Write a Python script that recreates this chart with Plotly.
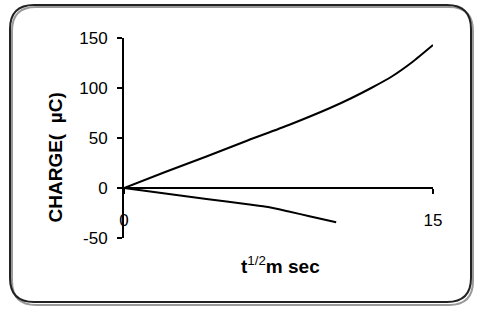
import plotly.graph_objects as go

# Data
x_upper = [0, 2, 4, 6, 8, 10, 11, 12, 13, 14, 15]
y_upper = [0, 16, 31.5, 47.5, 63, 80, 89.5, 100, 111.5, 126, 143]

x_lower = [0, 2, 4, 6, 7, 8, 9, 10.3]
y_lower = [0, -5.4, -10.9, -16.3, -19, -23.5, -28.2, -34.3]

x_ticks = [0, 15]
y_ticks = [-50, 0, 50, 100, 150]

W, H = 480, 311
L, R, T, B = 124, 47, 38, 73
PW, PH = W - L - R, H - T - B

def px(x):
    return (x - L) / PW

def py(y):
    return (H - B - y) / PH

FONT = "Arial, Liberation Sans, sans-serif"

fig = go.Figure()
fig.add_trace(go.Scatter(x=x_upper, y=y_upper, mode="lines",
                         line=dict(color="black", width=2, shape="spline", smoothing=0.6),
                         showlegend=False, hoverinfo="skip"))
fig.add_trace(go.Scatter(x=x_lower, y=y_lower, mode="lines",
                         line=dict(color="black", width=2, shape="spline", smoothing=0.6),
                         showlegend=False, hoverinfo="skip"))

def rounded_path(x0, y0, x1, y1, r):
    pts = []
    pts.append(f"M {px(x0 + r)},{py(y0)}")
    pts.append(f"L {px(x1 - r)},{py(y0)}")
    pts.append(f"Q {px(x1)},{py(y0)} {px(x1)},{py(y0 + r)}")
    pts.append(f"L {px(x1)},{py(y1 - r)}")
    pts.append(f"Q {px(x1)},{py(y1)} {px(x1 - r)},{py(y1)}")
    pts.append(f"L {px(x0 + r)},{py(y1)}")
    pts.append(f"Q {px(x0)},{py(y1)} {px(x0)},{py(y1 - r)}")
    pts.append(f"L {px(x0)},{py(y0 + r)}")
    pts.append(f"Q {px(x0)},{py(y0)} {px(x0 + r)},{py(y0)}")
    pts.append("Z")
    return " ".join(pts)

shapes = [
    dict(type="path", xref="paper", yref="paper", layer="below",
         path=rounded_path(12, 7, 473, 305, 24),
         line=dict(color="#9a9a9a", width=2)),
    dict(type="path", xref="paper", yref="paper", layer="below",
         path=rounded_path(10, 5, 471, 302, 24),
         line=dict(color="#222222", width=2)),
]

fig.update_layout(
    width=W, height=H,
    margin=dict(l=L, r=R, t=T, b=B, pad=0),
    paper_bgcolor="white", plot_bgcolor="white",
    showlegend=False,
    shapes=shapes,
    xaxis=dict(range=[0, 15], tickvals=x_ticks, ticktext=[str(v) for v in x_ticks],
               showgrid=False, zeroline=False, showline=True, linecolor="black", linewidth=2,
               ticks="outside", ticklen=5, tickwidth=2, tickcolor="black",
               anchor="free", position=0.25, ticklabelstandoff=12,
               tickfont=dict(family=FONT, size=17, color="black")),
    yaxis=dict(range=[-50, 150], tickvals=y_ticks, ticktext=[str(v) for v in y_ticks],
               showgrid=False, zeroline=False, showline=True, linecolor="black", linewidth=2,
               ticks="outside", ticklen=5, tickwidth=2, tickcolor="black",
               ticklabelstandoff=6,
               tickfont=dict(family=FONT, size=17, color="black")),
    annotations=[
        dict(text="<b>CHARGE(  µC)</b>", xref="paper", yref="paper",
             x=px(55), y=py(157.5), xanchor="center", yanchor="middle",
             textangle=-90, showarrow=False,
             font=dict(family=FONT, size=19, color="black")),
        dict(text="<b>t</b><sup>1/2</sup><b>m sec</b>", xref="paper", yref="paper",
             x=px(280), y=py(265), xanchor="center", yanchor="middle",
             showarrow=False,
             font=dict(family=FONT, size=19, color="black")),
    ],
)

fig.write_html("out.html", config={"displayModeBar": False},
               post_script="document.body.style.margin='0';document.body.style.overflow='hidden';")
